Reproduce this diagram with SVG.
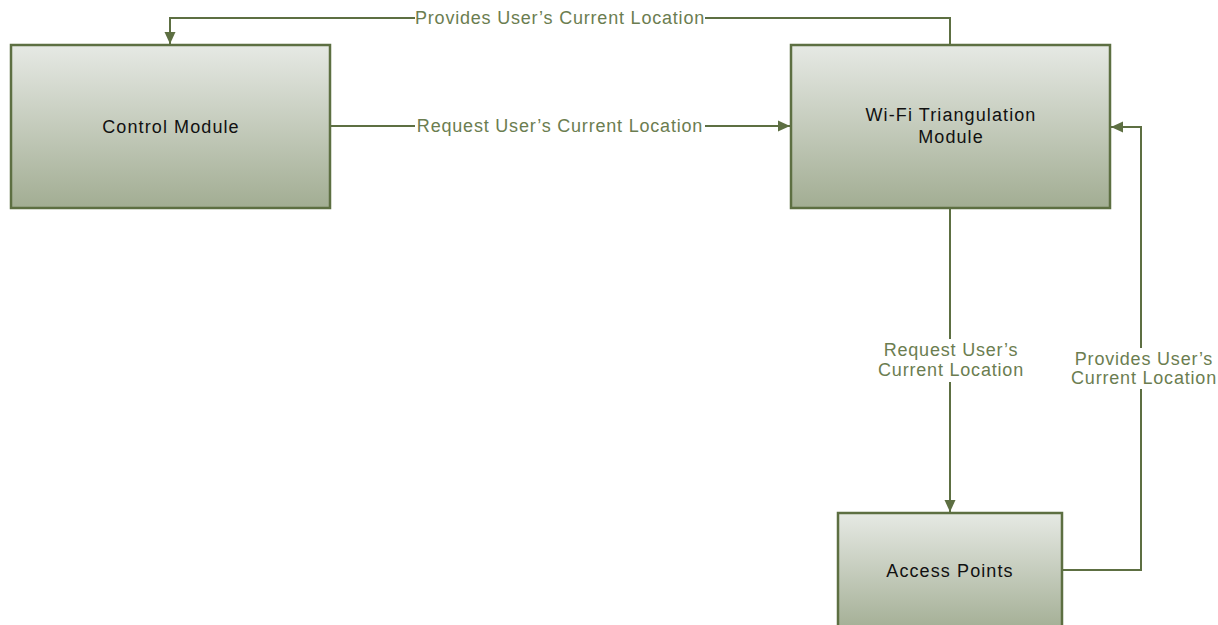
<svg xmlns="http://www.w3.org/2000/svg" width="1218" height="625" viewBox="0 0 1218 625">
  <style>
    .box { stroke: #5d6f42; stroke-width: 2.5; fill: url(#boxFill); }
    .node-label { font-family: "Liberation Sans", Arial, sans-serif; font-size: 18px; letter-spacing: 1.1px; fill: #111; text-anchor: middle; }
    .edge { fill: none; stroke: #5d6f42; stroke-width: 2; }
    .edge-label { font-family: "Liberation Sans", Arial, sans-serif; font-size: 18px; letter-spacing: 0.8px; fill: #6b7d50; text-anchor: middle; }
    .label-bg { fill: #ffffff; }
  </style>
  <defs>
    <linearGradient id="boxFill" x1="0" y1="0" x2="0" y2="1">
      <stop offset="0" stop-color="#e6e9e4"/>
      <stop offset="1" stop-color="#a2ad93"/>
    </linearGradient>
    <marker id="arrow" viewBox="0 0 12 12" refX="12" refY="6" markerWidth="12" markerHeight="12" markerUnits="userSpaceOnUse" orient="auto">
      <path d="M0,0.5 L12,6 L0,11.5 Z" fill="#5d6f42"/>
    </marker>
  </defs>

  <rect width="1218" height="625" fill="#ffffff"/>

  <g id="connectors">
    <!-- Wi-Fi module back to control module, over the top -->
    <path class="edge" d="M950,45 V18 H170 V44" marker-end="url(#arrow)"/>
    <rect class="label-bg" x="415" y="7" width="290" height="22"/>
    <text class="edge-label" x="560" y="24">Provides User’s Current Location</text>

    <!-- Control module request to Wi-Fi module -->
    <path class="edge" d="M330,126 H790" marker-end="url(#arrow)"/>
    <rect class="label-bg" x="415" y="115" width="290" height="22"/>
    <text class="edge-label" x="560" y="132">Request User’s Current Location</text>

    <!-- Wi-Fi module down to access points -->
    <path class="edge" d="M950,208 V512" marker-end="url(#arrow)"/>
    <rect class="label-bg" x="880" y="339" width="140" height="43"/>
    <text class="edge-label" x="951" y="356">Request User’s</text>
    <text class="edge-label" x="951" y="376">Current Location</text>

    <!-- Access points back up to Wi-Fi module -->
    <path class="edge" d="M1062,570 H1141 V127 H1111" marker-end="url(#arrow)"/>
    <rect class="label-bg" x="1072" y="348" width="146" height="41"/>
    <text class="edge-label" x="1144" y="365">Provides User’s</text>
    <text class="edge-label" x="1144" y="384">Current Location</text>
  </g>

  <g id="control-module">
    <rect class="box" x="11" y="45" width="319" height="163"/>
    <text class="node-label" x="171" y="133">Control Module</text>
  </g>

  <g id="wifi-triangulation-module">
    <rect class="box" x="791" y="45" width="319" height="163"/>
    <text class="node-label" x="951" y="121">Wi-Fi Triangulation</text>
    <text class="node-label" x="951" y="143">Module</text>
  </g>

  <g id="access-points">
    <rect class="box" x="838" y="513" width="224" height="120"/>
    <text class="node-label" x="950" y="577">Access Points</text>
  </g>
</svg>
